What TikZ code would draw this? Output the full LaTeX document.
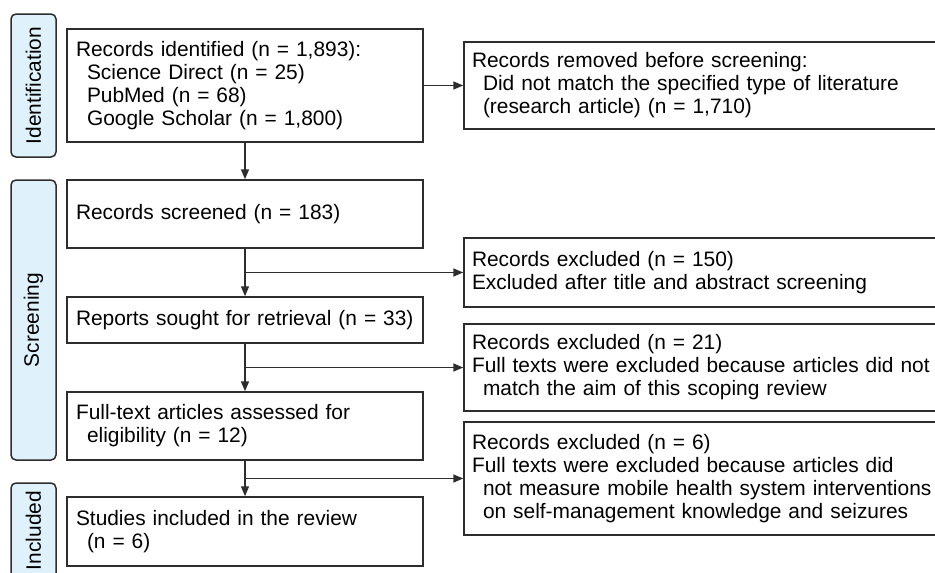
\documentclass[tikz,border=0pt]{standalone}
\usepackage{fontspec}
\setmainfont{Liberation Sans}
\usetikzlibrary{arrows.meta}
\definecolor{sidefill}{RGB}{223,242,251}
\definecolor{linegray}{RGB}{45,45,45}
\newcommand{\ind}{\hspace*{11pt}}
\tikzset{
  box/.style = {draw = linegray, line width = 1.5pt, inner xsep = 9pt, align = left,
                font = \fontsize{20.9}{23}\selectfont},
  sidebox/.style = {draw = linegray, fill = sidefill, line width = 1.5pt, rounded corners = 5pt,
                    rotate = 90, minimum height = 45pt, inner sep = 0pt,
                    font = \fontsize{20.9}{23}\selectfont},
  arr/.style = {draw = linegray, line width = 1.5pt, -{Triangle[length = 10pt, width = 8pt]}}
}
\begin{document}
\begin{tikzpicture}[x = 1pt, y = -1pt]
\useasboundingbox (0, 0) rectangle (935, 573);
\clip (0, 0) rectangle (935, 573);

% phases
\node[sidebox, minimum width = 143pt] (idlab) at (33.5, 85.5) {Identification};
\node[sidebox, minimum width = 280pt] (scrlab) at (33.5, 320) {Screening};
\node[sidebox, minimum width = 95pt] (incllab) at (33.5, 530.5) {Included};

% main column
\node[box, text width = 338pt, minimum height = 113pt] (ident) at (245, 85.5)
  {Records identified (n = 1,893):\\\ind Science Direct (n = 25)\\\ind PubMed (n = 68)\\\ind Google Scholar (n = 1,800)};
\node[box, text width = 338pt, minimum height = 68pt] (screened) at (245, 214)
  {Records screened (n = 183)};
\node[box, text width = 338pt, minimum height = 46pt] (sought) at (245, 320)
  {Reports sought for retrieval (n = 33)};
\node[box, text width = 338pt, minimum height = 68pt] (assessed) at (245, 426)
  {Full-text articles assessed for\\\ind eligibility (n = 12)};
\node[box, text width = 338pt, minimum height = 69pt] (included) at (245, 531.5)
  {Studies included in the review\\\ind (n = 6)};

% right column
\node[box, inner xsep = 8pt, text width = 474pt, minimum height = 87pt] (removed) at (709, 85.5)
  {Records removed before screening:\\\ind Did not match the specified type of literature\\\ind (research article) (n = 1,710)};
\node[box, inner xsep = 8pt, text width = 474pt, minimum height = 69pt] (excl1) at (709, 272.5)
  {Records excluded (n = 150)\\Excluded after title and abstract screening};
\node[box, inner xsep = 8pt, text width = 474pt, minimum height = 87pt] (excl2) at (709, 367.5)
  {Records excluded (n = 21)\\Full texts were excluded because articles did not\\\ind match the aim of this scoping review};
\node[box, inner xsep = 8pt, text width = 474pt, minimum height = 113pt] (excl3) at (709, 478.5)
  {Records excluded (n = 6)\\Full texts were excluded because articles did\\\ind not measure mobile health system interventions\\\ind on self-management knowledge and seizures};

% arrows
\draw[arr] (ident) -- (removed);
\draw[arr] (ident) -- (screened);
\draw[arr] (screened) -- (sought);
\draw[arr] (sought) -- (assessed);
\draw[arr] (assessed) -- (included);
\draw[arr] (screened.south |- excl1) -- (excl1);
\draw[arr] (sought.south |- excl2) -- (excl2);
\draw[arr] (assessed.south |- excl3) -- (excl3);

\end{tikzpicture}
\end{document}
